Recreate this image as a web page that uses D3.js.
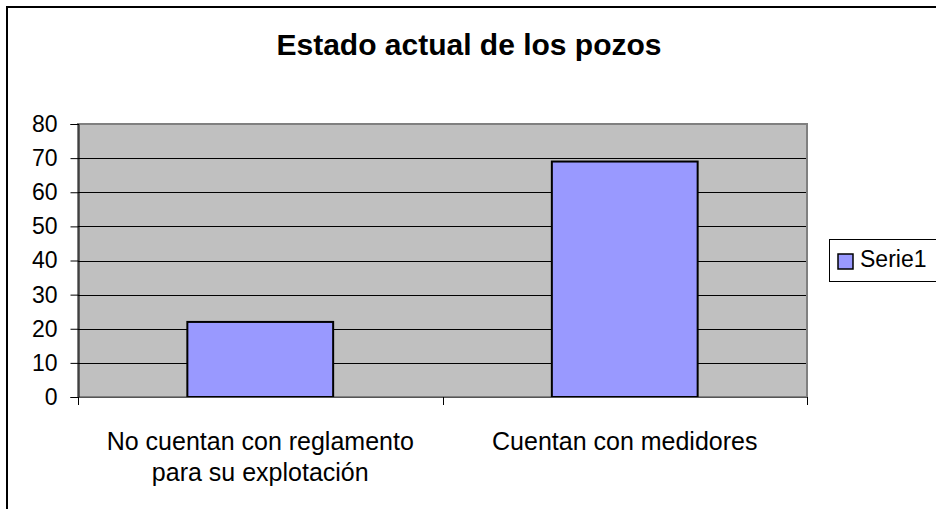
<!DOCTYPE html>
<html><head><meta charset="utf-8">
<script src="https://cdn.jsdelivr.net/npm/d3@7"></script>
<style>html,body{margin:0;padding:0;background:#fff;}svg{display:block;}</style>
</head><body>
<script>
const title = "Estado actual de los pozos";
const categories = [["No cuentan con reglamento","para su explotación"],["Cuentan con medidores"]];
const values = [22, 69];
const seriesName = "Serie1";
const yTicks = [0,10,20,30,40,50,60,70,80];

const W = 936, H = 509;
const svg = d3.select("body").append("svg").attr("width", W).attr("height", H);
const font = "'Liberation Sans', Arial, sans-serif";

// outer border (top/left visible)
svg.append("rect").attr("x",7).attr("y",7).attr("width",W+20).attr("height",H+20)
  .attr("fill","#fff").attr("stroke","#000").attr("stroke-width",2);

const plot = {l:78, r:807, t:124, b:397};
const x = d3.scaleBand().domain(d3.range(categories.length)).range([plot.l, plot.r]).paddingInner(0.6).paddingOuter(0.3);
const y = d3.scaleLinear().domain([0,80]).range([plot.b, plot.t]);

svg.append("rect").attr("x",plot.l).attr("y",plot.t).attr("width",plot.r-plot.l).attr("height",plot.b-plot.t)
  .attr("fill","#C0C0C0").attr("stroke","#808080").attr("stroke-width",2);

// gridlines
svg.append("g").selectAll("line").data(yTicks.filter(d=>d>0 && d<80)).join("line")
  .attr("x1",plot.l).attr("x2",plot.r-1).attr("y1",d=>Math.round(y(d))+0.5).attr("y2",d=>Math.round(y(d))+0.5)
  .attr("stroke","#000").attr("stroke-width",1);

// bars
svg.append("g").selectAll("rect").data(values).join("rect")
  .attr("x",(d,i)=>x(i)).attr("width",x.bandwidth())
  .attr("y",d=>y(d)).attr("height",d=>y(0)-y(d))
  .attr("fill","#9999FF").attr("stroke","#000").attr("stroke-width",2);

// y axis
const yAxis = d3.axisLeft(y).tickValues(yTicks).tickSize(8).tickPadding(13).tickFormat(d3.format("d"));
const gy = svg.append("g").attr("transform",`translate(${plot.l+0.5},0)`).call(yAxis);
gy.select(".domain").attr("stroke","#000");
gy.selectAll(".tick line").attr("stroke","#000");
gy.selectAll("text").attr("font-family",font).attr("font-size",23).attr("fill","#000");

// x axis
svg.append("line").attr("x1",plot.l).attr("x2",plot.r).attr("y1",plot.b+0.5).attr("y2",plot.b+0.5).attr("stroke","#555").attr("stroke-width",1);
const bounds = [plot.l, (plot.l+plot.r)/2, plot.r];
svg.append("g").selectAll("line").data(bounds).join("line")
  .attr("x1",d=>Math.round(d)+0.5).attr("x2",d=>Math.round(d)+0.5).attr("y1",plot.b).attr("y2",plot.b+8)
  .attr("stroke","#000");

const lab = svg.append("g").selectAll("text").data(categories).join("text")
  .attr("font-family",font).attr("font-size",25).attr("text-anchor","middle").attr("fill","#000")
  .attr("x",(d,i)=>x(i)+x.bandwidth()/2).attr("y",450);
lab.selectAll("tspan").data(d=>d).join("tspan")
  .attr("x",function(){return this.parentNode.getAttribute("x");})
  .attr("dy",(d,i)=>i===0?0:31).text(d=>d);

// title
svg.append("text").attr("x",469).attr("y",55).attr("text-anchor","middle")
  .attr("font-family",font).attr("font-weight","bold").attr("font-size",30).text(title);

// legend
svg.append("rect").attr("x",829.5).attr("y",239.5).attr("width",120).attr("height",42)
  .attr("fill","#fff").attr("stroke","#000").attr("stroke-width",1);
svg.append("rect").attr("x",838).attr("y",254).attr("width",15).attr("height",15)
  .attr("fill","#9999FF").attr("stroke","#000").attr("stroke-width",1.5);
svg.append("text").attr("x",860).attr("y",267).attr("font-family",font).attr("font-size",23).text(seriesName);
</script>
</body></html>
